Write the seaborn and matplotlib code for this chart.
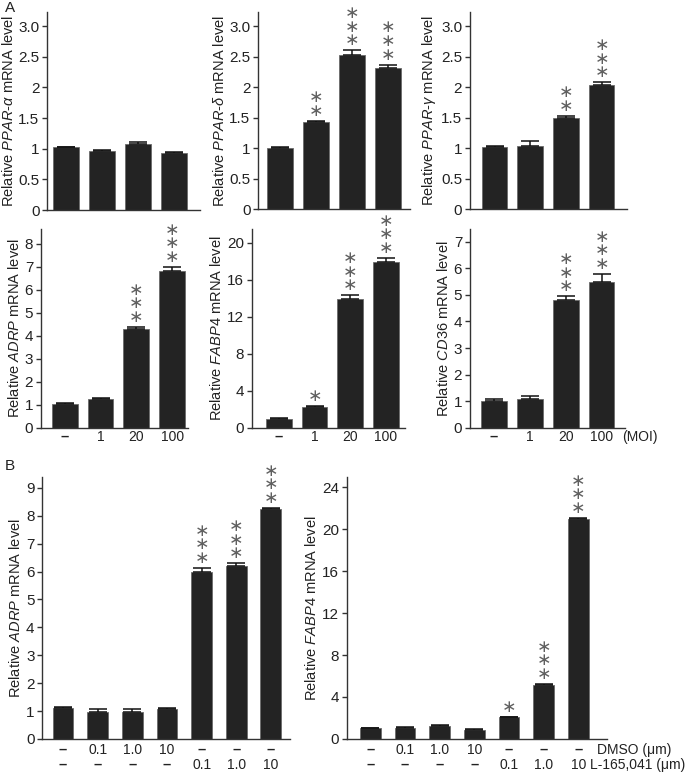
import matplotlib
matplotlib.use("Agg")
import matplotlib.pyplot as plt
import seaborn as sns
import numpy as np

# valores
moi_labels = ["\u2013", "1", "20", "100"]
ppar_a = [1.02, 0.97, 1.08, 0.93]
ppar_a_err = [0.01, 0.01, 0.03, 0.02]
ppar_a_stars = [0, 0, 0, 0]
ppar_d = [1.01, 1.43, 2.53, 2.31]
ppar_d_err = [0.01, 0.02, 0.07, 0.06]
ppar_d_stars = [0, 2, 3, 3]
ppar_g = [1.02, 1.03, 1.49, 2.03]
ppar_g_err = [0.01, 0.09, 0.04, 0.05]
ppar_g_stars = [0, 0, 2, 3]
adrp_a = [1.05, 1.27, 4.28, 6.82]
adrp_a_err = [0.01, 0.02, 0.10, 0.18]
adrp_a_stars = [0, 0, 3, 3]
fabp4_a = [1.0, 2.2, 13.9, 17.9]
fabp4_a_err = [0.05, 0.10, 0.40, 0.45]
fabp4_a_stars = [0, 1, 3, 3]
cd36 = [1.0, 1.1, 4.82, 5.47]
cd36_err = [0.10, 0.10, 0.13, 0.33]
cd36_stars = [0, 0, 3, 3]

dmso_labels = ["\u2013", "0.1", "1.0", "10", "\u2013", "\u2013", "\u2013"]
l165_labels = ["\u2013", "\u2013", "\u2013", "\u2013", "0.1", "1.0", "10"]
adrp_b = [1.10, 0.96, 0.96, 1.06, 5.98, 6.21, 8.23]
adrp_b_err = [0.03, 0.13, 0.10, 0.05, 0.15, 0.08, 0.06]
adrp_b_stars = [0, 0, 0, 0, 3, 3, 3]
fabp4_b = [1.0, 1.08, 1.28, 0.88, 2.08, 5.18, 20.95]
fabp4_b_err = [0.03, 0.10, 0.08, 0.03, 0.05, 0.06, 0.12]
fabp4_b_stars = [0, 0, 0, 0, 1, 3, 3]

sns.set_style("ticks")
plt.rcParams["font.family"] = ["Liberation Sans", "DejaVu Sans"]
plt.rcParams["mathtext.fontset"] = "custom"
plt.rcParams["mathtext.rm"] = "Liberation Sans"
plt.rcParams["mathtext.it"] = "Liberation Sans:italic"
plt.rcParams["font.size"] = 10

BAR = "#232323"
AXC = "#333333"
STAR = "#606060"
TXT = "#222222"


def label_row(ax, labels, dy):
    # texto abaixo do eixo, centrado em cada barra
    for i, lab in enumerate(labels):
        bold = lab == "\u2013"
        ax.annotate(lab, xy=(i, 0), xycoords=("data", "axes fraction"),
                    xytext=(0, -dy), textcoords="offset pixels",
                    ha="center", va="center", fontsize=10.5 if bold else 10,
                    fontweight="bold" if bold else "normal", color=TXT)


def draw_panel(ax, vals, errs, stars, ylim, ticks, ticklabels, ylabel, xlim, width):
    n = len(vals)
    sns.barplot(x=list(range(n)), y=vals, color=BAR, width=width, ax=ax,
                edgecolor="#6a6a6a", linewidth=0.6, saturation=1)
    ax.errorbar(np.arange(n), vals, yerr=[np.zeros(n), errs], fmt="none",
                ecolor="#111111", elinewidth=1.1, capsize=6.5, capthick=1.1)
    # asteriscos empilhados num único texto
    for i in range(n):
        if stars[i] == 0:
            continue
        ax.annotate("\n".join(["\u2217"] * stars[i]), xy=(i, vals[i] + errs[i]),
                    xytext=(0, 1), textcoords="offset pixels", ha="center",
                    va="bottom", fontsize=12.5, color=STAR, family="DejaVu Sans",
                    linespacing=0.68)
    ax.set_xlim(*xlim)
    ax.set_ylim(*ylim)
    ax.set_yticks(ticks)
    ax.set_yticklabels(ticklabels)
    ax.set_xticks([])
    ax.set_ylabel(ylabel, fontsize=10.5, labelpad=2, color=TXT)
    sns.despine(ax=ax)
    for s in ["left", "bottom"]:
        ax.spines[s].set_color(AXC)
        ax.spines[s].set_linewidth(1.0)
    ax.tick_params(axis="y", length=3.5, width=1, color=AXC, labelsize=11,
                   pad=2, labelcolor=TXT)


fig = plt.figure(figsize=(6.92, 7.75), dpi=100)

t3 = [0, 0.5, 1, 1.5, 2, 2.5, 3.0]
t3l = ["0", "0.5", "1", "1.5", "2", "2.5", "3.0"]

ax1 = fig.add_axes([0.068, 0.729, 0.221, 0.2555])
draw_panel(ax1, ppar_a, ppar_a_err, ppar_a_stars, (0, 3.23), t3, t3l,
           r"Relative $\mathit{PPAR}$-$\mathit{\alpha}$ mRNA level", (-0.53, 3.72), 0.72)
ax2 = fig.add_axes([0.373, 0.730, 0.219, 0.2545])
draw_panel(ax2, ppar_d, ppar_d_err, ppar_d_stars, (0, 3.23), t3, t3l,
           r"Relative $\mathit{PPAR}$-$\mathit{\delta}$ mRNA level", (-0.61, 3.61), 0.72)
ax3 = fig.add_axes([0.679, 0.730, 0.227, 0.2545])
draw_panel(ax3, ppar_g, ppar_g_err, ppar_g_stars, (0, 3.23), t3, t3l,
           r"Relative $\mathit{PPAR}$-$\mathit{\gamma}$ mRNA level", (-0.69, 3.71), 0.72)

ax4 = fig.add_axes([0.059, 0.448, 0.213, 0.257])
draw_panel(ax4, adrp_a, adrp_a_err, adrp_a_stars, (0, 8.65), list(range(9)),
           [str(v) for v in range(9)],
           r"Relative $\mathit{ADRP}$ mRNA level", (-0.67, 3.45), 0.72)
ax5 = fig.add_axes([0.364, 0.448, 0.221, 0.257])
draw_panel(ax5, fabp4_a, fabp4_a_err, fabp4_a_stars, (0, 21.5), list(range(0, 21, 4)),
           [str(v) for v in range(0, 21, 4)],
           r"Relative $\mathit{FABP4}$ mRNA level", (-0.76, 3.53), 0.72)
ax6 = fig.add_axes([0.679, 0.448, 0.224, 0.257])
draw_panel(ax6, cd36, cd36_err, cd36_stars, (0, 7.49), list(range(8)),
           [str(v) for v in range(8)],
           r"Relative $\mathit{CD36}$ mRNA level", (-0.67, 3.65), 0.72)
for ax in (ax4, ax5, ax6):
    label_row(ax, moi_labels, 9)
ax6.annotate("(MOI)", xy=(1, 0), xycoords="axes fraction", xytext=(-3, -9),
             textcoords="offset pixels", ha="left", va="center", fontsize=10, color=TXT)

ax7 = fig.add_axes([0.061, 0.0465, 0.358, 0.3385])
draw_panel(ax7, adrp_b, adrp_b_err, adrp_b_stars, (0, 9.4), list(range(10)),
           [str(v) for v in range(10)],
           r"Relative $\mathit{ADRP}$ mRNA level", (-0.6, 6.55), 0.6)
ax8 = fig.add_axes([0.501, 0.0465, 0.376, 0.3385])
draw_panel(ax8, fabp4_b, fabp4_b_err, fabp4_b_stars, (0, 25.0), list(range(0, 25, 4)),
           [str(v) for v in range(0, 25, 4)],
           r"Relative $\mathit{FABP4}$ mRNA level", (-0.68, 6.82), 0.6)
for ax in (ax7, ax8):
    label_row(ax, dmso_labels, 11)
    label_row(ax, l165_labels, 26)
ax8.annotate("DMSO (\u03bcm)", xy=(1, 0), xycoords="axes fraction", xytext=(-10, -11),
             textcoords="offset pixels", ha="left", va="center", fontsize=10, color=TXT)
ax8.annotate("L-165,041 (\u03bcm)", xy=(1, 0), xycoords="axes fraction", xytext=(-17, -26),
             textcoords="offset pixels", ha="left", va="center", fontsize=10, color=TXT)

fig.text(0.007, 0.99, "A", fontsize=11, va="center", ha="left", color=TXT)
fig.text(0.007, 0.399, "B", fontsize=11, va="center", ha="left", color=TXT)

fig.savefig("out.png", dpi=100)
